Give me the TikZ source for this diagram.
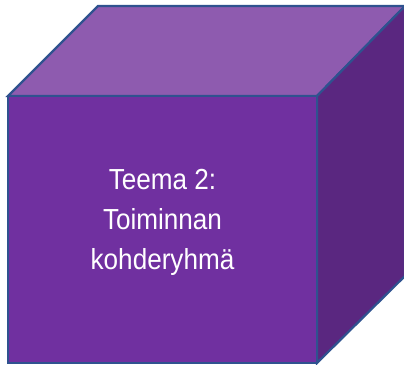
\documentclass[tikz,border=0pt]{standalone}
\usepackage{fontspec}
\newfontfamily\cubefont[FakeStretch=0.9]{Liberation Sans}
\definecolor{frontc}{HTML}{7030A0}
\definecolor{topc}{HTML}{8E5BAF}
\definecolor{sidec}{HTML}{5A2780}
\definecolor{edgec}{HTML}{2F528F}
\begin{document}
\begin{tikzpicture}[x=1pt,y=-1pt,
  face/.style={draw=edgec,line width=2.2pt,line join=miter},
  label/.style={text=white,font=\cubefont\fontsize{29}{40}\selectfont,align=center,inner sep=0pt}]
\useasboundingbox (0,0) rectangle (404,364);
\coordinate (fl) at (8,96);
\coordinate (fr) at (317,96);
\coordinate (br) at (317,363);
\coordinate (bl) at (8,363);
\coordinate (tl) at (98,6);
\coordinate (tr) at (405,6);
\coordinate (rb) at (405,276);
\filldraw[face,fill=topc] (fl) -- (tl) -- (tr) -- (fr) -- cycle;
\filldraw[face,fill=sidec] (fr) -- (tr) -- (rb) -- (br) -- cycle;
\filldraw[face,fill=frontc] (fl) -- (fr) -- (br) -- (bl) -- cycle;
\node[label,anchor=base] (t) at (162.5,269) {Teema 2:\\Toiminnan\\kohderyhmä};
\end{tikzpicture}
\end{document}
